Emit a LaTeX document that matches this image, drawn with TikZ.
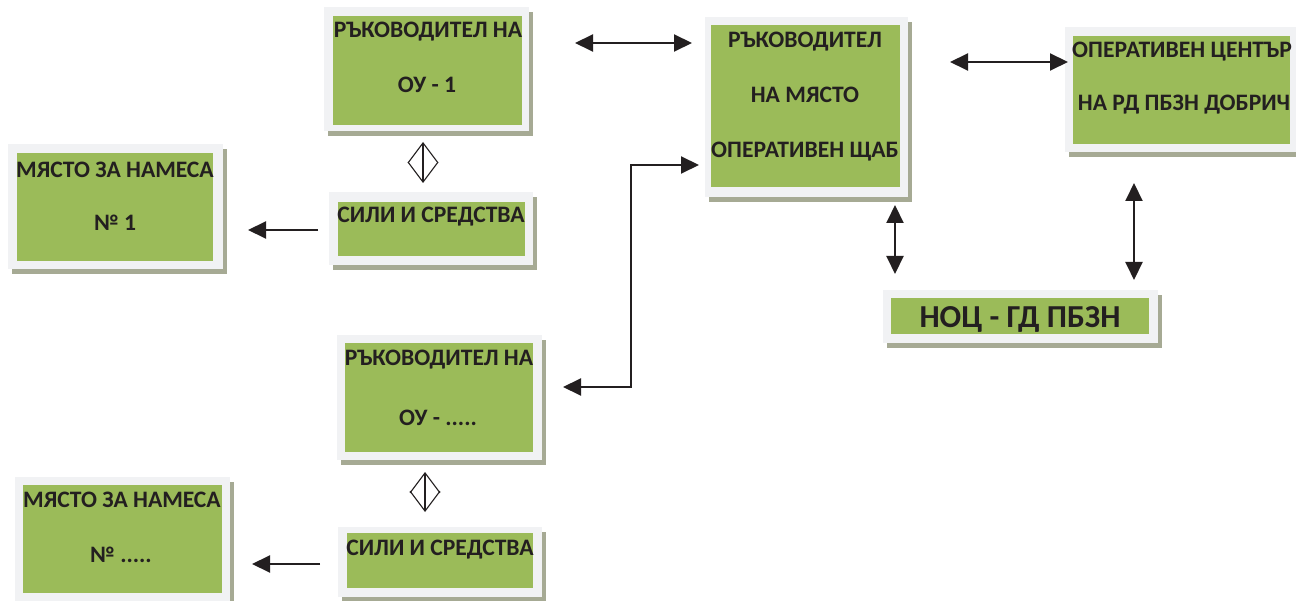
\documentclass[tikz,border=0pt]{standalone}
\usepackage{fontspec}
\setmainfont{Carlito}
\usetikzlibrary{arrows.meta,fit}
\definecolor{framec}{HTML}{F1F2F4}
\definecolor{greenc}{HTML}{9BBB59}
\definecolor{shadowc}{HTML}{A6AA94}
\definecolor{inkc}{HTML}{231F20}
\newcommand{\panel}[9]{%
  \fill[shadowc] (#2+4,#3+5) rectangle (#4+4,#5+5);
  \coordinate (#1-nw) at (#2,#3);
  \coordinate (#1-se) at (#4,#5);
  \node[fit=(#1-nw)(#1-se), inner sep=0pt, fill=framec] (#1) {};
  \fill[greenc] (#6,#7) rectangle (#8,#9);
}
\begin{document}
\begin{tikzpicture}[x=1pt,y=-1pt,
  txt/.style={font=\bfseries\fontsize{23.6}{26}\selectfont, text=inkc, inner sep=0pt, anchor=center},
  bigtxt/.style={font=\bfseries\fontsize{32}{34}\selectfont, text=inkc, inner sep=0pt, anchor=center},
  dbl/.style={draw=inkc, line width=2pt, {Triangle[length=18pt,width=17pt]}-{Triangle[length=18pt,width=17pt]}},
  sgl/.style={draw=inkc, line width=2pt, -{Triangle[length=18pt,width=17pt]}},
  hollow/.style={draw=inkc, line width=1.1pt, {Straight Barb[length=20pt,width=30pt,line width=1.1pt]}-{Straight Barb[length=20pt,width=30pt,line width=1.1pt]}}]
\useasboundingbox (0,0) rectangle (1296,601);
\fill[white] (0,0) rectangle (1296,601);

% boxes
\panel{ou1}{324}{7}{529}{131}{333}{16}{522}{125}
\node[txt] (ou1a) at (428,32) {РЪКОВОДИТЕЛ НА};
\node[txt] (ou1b) at (427,85) {ОУ - 1};

\panel{mesto1}{8}{144}{223}{269}{17}{153}{213}{261}
\node[txt] (mesto1a) at (115,170) {МЯСТО ЗА НАМЕСА};
\node[txt] (mesto1b) at (115,223) {№ 1};

\panel{sili1}{329}{192}{533}{265}{338}{202}{525}{256}
\node[txt] (sili1a) at (431,217) {СИЛИ И СРЕДСТВА};

\panel{place}{705}{17}{908}{197}{711}{25}{900}{187}
\node[txt] (placea) at (805,42) {РЪКОВОДИТЕЛ};
\node[txt] (placeb) at (805,95) {НА МЯСТО};
\node[txt] (placec) at (805,152) {ОПЕРАТИВЕН ЩАБ};

\panel{center}{1065}{27}{1300}{152}{1073}{36}{1290}{144}
\node[txt] (centera) at (1182,52) {ОПЕРАТИВЕН ЦЕНТЪР};
\node[txt] (centerb) at (1184,105) {НА РД ПБЗН ДОБРИЧ};

\panel{noc}{883}{290}{1158}{343}{891}{298}{1149}{334}
\node[bigtxt] (noca) at (1020,319) {НОЦ - ГД ПБЗН};

\panel{ouN}{337}{335}{542}{460}{345}{343}{533}{452}
\node[txt] (ouNa) at (439,360) {РЪКОВОДИТЕЛ НА};
\node[txt] (ouNb) at (438,418) {ОУ - .....};

\panel{mestoN}{15}{477}{230}{605}{23}{485}{222}{593}
\node[txt] (mestoNa) at (122,500) {МЯСТО ЗА НАМЕСА};
\node[txt] (mestoNb) at (121,555) {№ .....};

\panel{siliN}{338}{527}{542}{597}{347}{533}{533}{588}
\node[txt] (siliNa) at (440,550) {СИЛИ И СРЕДСТВА};

% connector end points
\coordinate (a1s) at (575,43);  \coordinate (a1e) at (692,43);
\coordinate (a2s) at (950,62);  \coordinate (a2e) at (1068,62);
\coordinate (a3s) at (895,205); \coordinate (a3e) at (895,274);
\coordinate (a4s) at (1134,183); \coordinate (a4e) at (1134,280);
\coordinate (a5s) at (563,387); \coordinate (a5m1) at (631,387);
\coordinate (a5m2) at (631,165); \coordinate (a5e) at (699,165);
\coordinate (a6s) at (423,142); \coordinate (a6e) at (423,183);
\coordinate (a7s) at (425,472); \coordinate (a7e) at (425,512);
\coordinate (a8s) at (318,230); \coordinate (a8e) at (248,230);
\coordinate (a9s) at (320,564); \coordinate (a9e) at (252,564);

% connectors
\draw[dbl] (a1s) -- (a1e);
\draw[dbl] (a2s) -- (a2e);
\draw[dbl] (a3s) -- (a3e);
\draw[dbl] (a4s) -- (a4e);
\draw[dbl] (a5s) -- (a5m1) -- (a5m2) -- (a5e);
\draw[hollow] (a6s) -- (a6e);
\draw[hollow] (a7s) -- (a7e);
\draw[sgl] (a8s) -- (a8e);
\draw[sgl] (a9s) -- (a9e);
\end{tikzpicture}
\end{document}
